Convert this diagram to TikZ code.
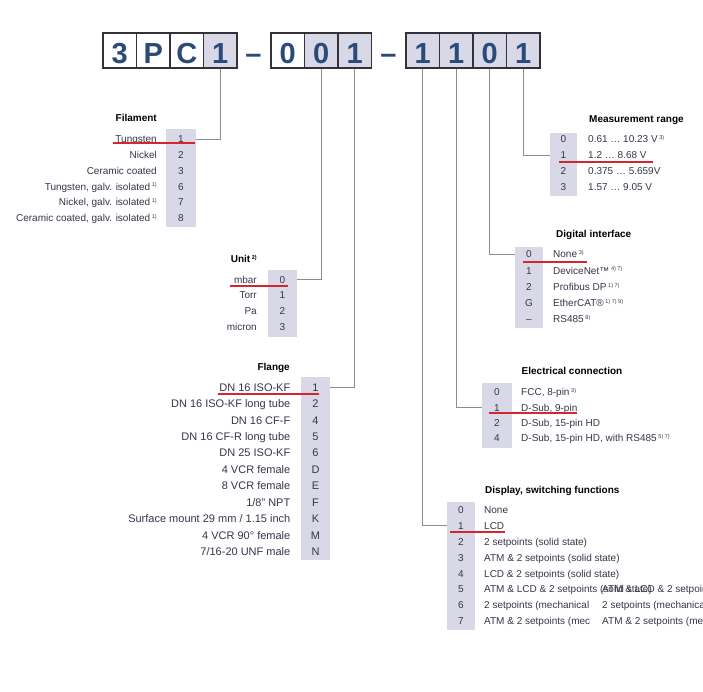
\documentclass[tikz,border=0pt]{standalone}
\usepackage{fontspec}
\setmainfont{Liberation Sans}
\definecolor{digitblue}{RGB}{42,74,122}
\definecolor{colbg}{RGB}{216,216,230}
\definecolor{txt}{RGB}{52,55,72}
\definecolor{linegray}{RGB}{140,140,145}
\definecolor{boxline}{RGB}{50,50,55}
\definecolor{redmark}{RGB}{212,38,44}
\newcommand{\fnote}[1]{\,{\fontsize{5.5}{6}\selectfont\raisebox{3.2pt}{#1}}}
\begin{document}
\begin{tikzpicture}[x=1pt,y=-1pt,
  hbox/.style={draw=boxline, line width=1.1pt, minimum width=33.5pt, minimum height=35pt, inner sep=0pt,
    font=\fontsize{29}{29}\selectfont\bfseries, text=digitblue, text height=25.6pt, text depth=0pt},
  hsel/.style={hbox, fill=colbg},
  dashsym/.style={inner sep=0pt, font=\fontsize{29}{29}\selectfont\bfseries, text=digitblue, text height=25.6pt, text depth=0pt},
  lbl/.style={inner sep=0pt, text height=7.2pt, text depth=0pt, font=\fontsize{10}{12}\selectfont, text=txt},
  lblb/.style={inner sep=0pt, text height=7.9pt, text depth=0pt, font=\fontsize{11}{13}\selectfont, text=txt},
  ttl/.style={inner sep=0pt, text height=7.2pt, text depth=0pt, font=\fontsize{10}{12}\selectfont\bfseries, text=black},
  conn/.style={draw=linegray, line width=0.9pt},
  redln/.style={draw=redmark, line width=1.8pt},
]
\useasboundingbox (0,0) rectangle (703,691);
\fill[white] (0,0) rectangle (703,691);

% ---------- header ----------
\foreach \t/\x/\s [count=\i] in {3/119.75/hbox, P/153.25/hbox, C/186.75/hbox, 1/220.25/hsel,
  0/287.75/hbox, 0/321.25/hsel, 1/354.75/hsel,
  1/422.75/hsel, 1/456.25/hsel, 0/489.75/hsel, 1/523.25/hsel}
  \node[\s] (h\i) at (\x,50.5) {\t};
\node[dashsym] (d1) at (253.5,50.5) {–};
\node[dashsym] (d2) at (388.5,50.5) {–};

% ---------- Filament ----------
\fill[colbg] (166,129) rectangle (196,227);
\node[ttl, anchor=east] (filT) at (157,118) {Filament};
\foreach \k/\t [count=\i from 0] in {1/Tungsten, 2/Nickel, 3/{Ceramic coated},
  6/{Tungsten, galv. isolated\fnote{1)}}, 7/{Nickel, galv. isolated\fnote{1)}},
  8/{Ceramic coated, galv. isolated\fnote{1)}}} {
  \node[lbl, minimum width=30pt] (fil\i) at (181,{139+15.8*\i}) {\k};
  \node[lbl, anchor=east] (filL\i) at (157,{139+15.8*\i}) {\t};
}
\draw[conn] (h4.south) |- (fil0.east);
\draw[redln] (113,143.3) -- (195,143.3);

% ---------- Unit ----------
\fill[colbg] (268,270) rectangle (297,337);
\node[ttl, anchor=east] (unitT) at (257,259) {Unit\fnote{2)}};
\foreach \k/\t [count=\i from 0] in {0/mbar, 1/Torr, 2/Pa, 3/micron} {
  \node[lbl, minimum width=29pt] (un\i) at (282.5,{279.5+15.8*\i}) {\k};
  \node[lbl, anchor=east] (unL\i) at (257,{279.5+15.8*\i}) {\t};
}
\draw[conn] (h6.south) |- (un0.east);
\draw[redln] (230,285.7) -- (288,285.7);

% ---------- Flange ----------
\fill[colbg] (301,377) rectangle (330,560);
\node[ttl, anchor=east] (flT) at (290,366.7) {Flange};
\foreach \k/\t [count=\i from 0] in {1/{DN 16 ISO-KF}, 2/{DN 16 ISO-KF long tube}, 4/{DN 16 CF-F},
  5/{DN 16 CF-R long tube}, 6/{DN 25 ISO-KF}, D/{4 VCR female}, E/{8 VCR female}, F/{1/8" NPT},
  K/{Surface mount 29 mm / 1.15 inch}, M/{4 VCR 90° female}, N/{7/16-20 UNF male}} {
  \node[lblb, minimum width=29pt] (fl\i) at (315.5,{387.3+16.43*\i}) {\k};
  \node[lblb, anchor=east] (flL\i) at (290.5,{387.3+16.43*\i}) {\t};
}
\draw[conn] (h7.south) |- (fl0.east);
\draw[redln] (218,394.3) -- (319,394.3);

% ---------- Measurement range ----------
\fill[colbg] (550,133) rectangle (577,196);
\node[ttl, anchor=west] (mrT) at (589,119) {Measurement range};
\foreach \k/\t [count=\i from 0] in {0/{0.61 … 10.23 V\fnote{3)}}, 1/{1.2 … 8.68 V},
  2/{0.375 … 5.659V}, 3/{1.57 … 9.05 V}} {
  \node[lbl, minimum width=27pt] (mr\i) at (563.5,{139.3+16*\i}) {\k};
  \node[lbl, anchor=west] (mrL\i) at (588,{139.3+16*\i}) {\t};
}
\draw[conn] (h11.south) |- (mr1.west);
\draw[redln] (559,161.7) -- (652.7,161.7);

% ---------- Digital interface ----------
\fill[colbg] (515,246.5) rectangle (543,328);
\node[ttl, anchor=west] (diT) at (556,234) {Digital interface};
\foreach \k/\t [count=\i from 0] in {0/{None\fnote{3)}}, 1/{DeviceNet™\fnote{4) 7)}},
  2/{Profibus DP\fnote{1) 7)}}, G/{EtherCAT®\fnote{1) 7) 9)}}, –/{RS485\fnote{8)}}} {
  \node[lbl, minimum width=28pt] (di\i) at (529,{254.3+16.2*\i}) {\k};
  \node[lbl, anchor=west] (diL\i) at (553,{254.3+16.2*\i}) {\t};
}
\draw[conn] (h10.south) |- (di0.west);
\draw[redln] (523,261.7) -- (587,261.7);

% ---------- Electrical connection ----------
\fill[colbg] (482,383) rectangle (512,448);
\node[ttl, anchor=west] (ecT) at (521.5,370.7) {Electrical connection};
\foreach \k/\t [count=\i from 0] in {0/{FCC, 8-pin\fnote{3)}}, 1/{D-Sub, 9-pin},
  2/{D-Sub, 15-pin HD}, 4/{D-Sub, 15-pin HD, with RS485\fnote{5) 7)}}} {
  \node[lbl, minimum width=30pt] (ec\i) at (497,{392.3+15.3*\i}) {\k};
  \node[lbl, anchor=west] (ecL\i) at (521,{392.3+15.3*\i}) {\t};
}
\draw[conn] (h9.south) |- (ec1.west);
\draw[redln] (489,412.7) -- (577,412.7);

% ---------- Display, switching functions ----------
\fill[colbg] (447,502) rectangle (475,630);
\node[ttl, anchor=west] (dsT) at (485,490) {Display, switching functions};
\begin{scope}
\clip (0,0) rectangle (703,691);
\foreach \k/\t [count=\i from 0] in {0/None, 1/LCD, 2/{2 setpoints (solid state)},
  3/{ATM \& 2 setpoints (solid state)}, 4/{LCD \& 2 setpoints (solid state)},
  5/{ATM \& LCD \& 2 setpoints (solid state)}, 6/{2 setpoints (mechanical},
  7/{ATM \& 2 setpoints (mec}} {
  \node[lbl, minimum width=28pt] (ds\i) at (461,{510+15.85*\i}) {\k};
  \node[lbl, anchor=west] (dsL\i) at (484,{510+15.85*\i}) {\t};
}
\node[lbl, anchor=west] (dsX5) at (602,{510+15.85*5}) {ATM \& LCD \& 2 setpoints (solid state)};
\node[lbl, anchor=west] (dsX6) at (602,{510+15.85*6}) {2 setpoints (mechanical)};
\node[lbl, anchor=west] (dsX7) at (602,{510+15.85*7}) {ATM \& 2 setpoints (mechanical)};
\end{scope}
\draw[conn] (h8.south) |- (ds1.west);
\draw[redln] (450,531.7) -- (505,531.7);
\end{tikzpicture}
\end{document}
